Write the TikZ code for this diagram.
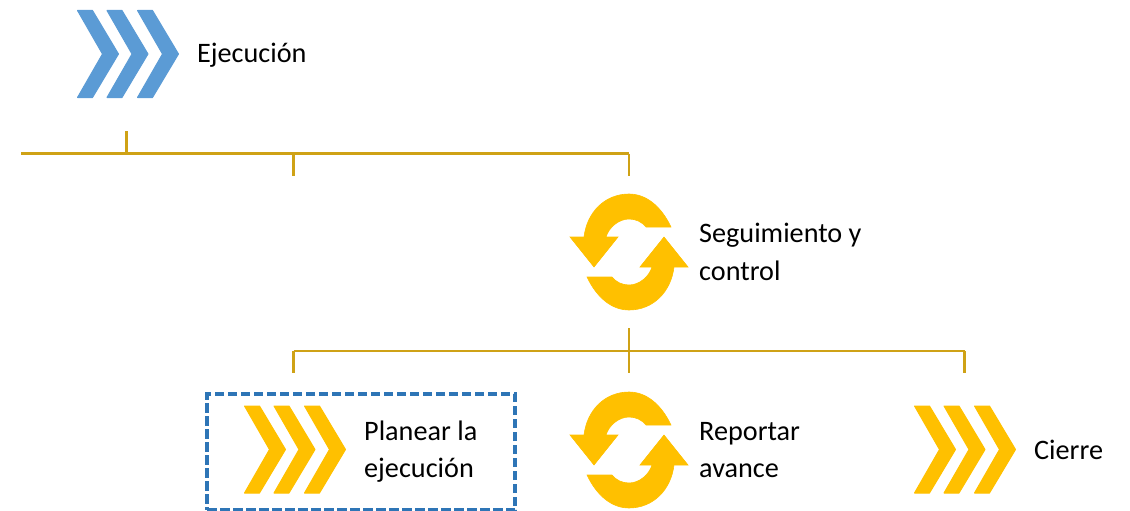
\documentclass[tikz,border=0pt]{standalone}
\usepackage{fontspec}
\setmainfont{Carlito}
\usetikzlibrary{positioning}
\definecolor{chevBlue}{HTML}{5B9BD5}
\definecolor{iconYellow}{HTML}{FFC000}
\definecolor{lineGold}{HTML}{CFA216}
\definecolor{boxBlue}{HTML}{2E75B6}
\tikzset{
	treeLine/.style={draw=lineGold, line width=2.4pt},
	stepText/.style={anchor=west, inner sep=0pt, align=left, font=\fontsize{28.2}{37.5}\selectfont},
	pics/chevrons/.style={code={
		\foreach \dx in {0,29.5,60}
			\fill[#1, draw=#1, line width=1pt, line join=round, xshift=\dx pt] (-50.5,-43.5) -- (-35.5,-43.5) -- (-9.5,0) -- (-35.5,43.5) -- (-50.5,43.5) -- (-25.5,0) -- cycle;
	}},
	pics/cycle/.style={code={
		\foreach \rot in {0,180}
			\fill[iconYellow, draw=iconYellow, line width=0.6pt, rotate=\rot] (42,-25) .. controls (32,-46) and (17,-58) .. (0,-58) .. controls (-24,-58) and (-42,-40) .. (-45,-15) -- (-59,-15) -- (-35,15) -- (-11,-15) -- (-23,-15) .. controls (-20,-25) and (-10,-33) .. (0,-33) .. controls (7,-33) and (13,-30) .. (17,-25) -- cycle;
	}}
}
\begin{document}
\begin{tikzpicture}[x=1pt, y=-1pt]
	\useasboundingbox (0,0) rectangle (1130,511);

	\coordinate (iconEjecucion) at (128,54);
	\coordinate (iconSeguimiento) at (629,252);
	\coordinate (iconPlanear) at (295,449.5);
	\coordinate (iconReportar) at (629,450);
	\coordinate (iconCierre) at (965,449.5);

	\pic at (iconEjecucion) {chevrons=chevBlue};
	\pic at (iconSeguimiento) {cycle};
	\pic at (iconPlanear) {chevrons=iconYellow};
	\pic at (iconReportar) {cycle};
	\pic at (iconCierre) {chevrons=iconYellow};

	\node[stepText, right=69pt of iconEjecucion, yshift=-1pt] (ejecucion) {Ejecución};
	\node[stepText, right=70pt of iconSeguimiento] (seguimiento) {Seguimiento y\\control};
	\node[stepText, right=69pt of iconPlanear, yshift=-2pt] (planear) {Planear la\\ejecución};
	\node[stepText, right=70pt of iconReportar] (reportar) {Reportar\\avance};
	\node[stepText, right=69pt of iconCierre] (cierre) {Cierre};

	\node[draw=boxBlue, line width=3.4pt, dash pattern=on 9.5pt off 3.5pt, minimum width=308pt, minimum height=116pt, inner sep=0pt] (planearBox) at (361,452) {};

	% upper tree
	\coordinate (treeLeft) at (21,153.5);
	\coordinate (treeTop) at (126.5,131);
	\coordinate (treeJoin) at (126.5,153.5);
	\coordinate (treeMid) at (293.5,153.5);
	\coordinate (treeMidEnd) at (293.5,176);
	\coordinate (treeRight) at (629,153.5);
	\coordinate (treeRightEnd) at (629,176);

	% lower tree
	\coordinate (subTop) at (629,328);
	\coordinate (subJoin) at (629,351);
	\coordinate (subLeft) at (293.5,351);
	\coordinate (subLeftEnd) at (293.5,373);
	\coordinate (subMidEnd) at (629,373);
	\coordinate (subRight) at (964.5,351);
	\coordinate (subRightEnd) at (964.5,373);

	\path[treeLine] (treeLeft) -- (treeRight)
	(treeTop) -- (treeJoin)
	(treeMid) -- (treeMidEnd)
	(treeRight) -- (treeRightEnd)
	(subLeft) -- (subRight)
	(subTop) -- (subMidEnd)
	(subLeft) -- (subLeftEnd)
	(subRight) -- (subRightEnd)
	;
\end{tikzpicture}
\end{document}
